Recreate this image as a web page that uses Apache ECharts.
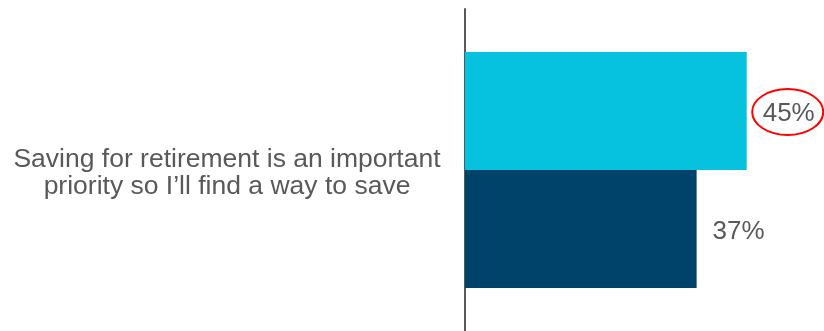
<!DOCTYPE html>
<html>
<head>
<meta charset="utf-8">
<script src="https://cdn.jsdelivr.net/npm/echarts@6/dist/echarts.min.js"></script>
<style>
  html, body { margin: 0; padding: 0; background: #fff; }
  #chart { width: 824px; height: 331px; }
</style>
</head>
<body>
<div id="chart"></div>
<script>
const categories = ['Saving for retirement is an important\npriority so I\u2019ll find a way to save'];
const seriesNames = ['Group A', 'Group B'];
const valuesA = [45];
const valuesB = [37];
const highlightValue = 45;

const chart = echarts.init(document.getElementById('chart'));

const fontFamily = "'Liberation Sans', Arial, sans-serif";
const textColor = '#595959';

const labelStyle = {
    show: true,
    position: 'right',
    distance: 16,
    offset: [0, 3],
    formatter: '{c}%',
    color: textColor,
    fontSize: 26,
    fontFamily: fontFamily
};

chart.setOption({
    animation: false,
    grid: { left: 465, top: 9, width: 313, bottom: 0, containLabel: false },
    xAxis: {
        type: 'value',
        min: 0,
        max: 50,
        show: false
    },
    yAxis: {
        type: 'category',
        inverse: true,
        data: categories,
        axisLine: { show: true, lineStyle: { color: textColor, width: 2 } },
        axisTick: { show: false },
        axisLabel: {
            align: 'center',
            margin: 238,
            formatter: function (v) {
                const lines = v.split('\n');
                return '{first|' + lines[0] + '}\n' + lines.slice(1).map(l => '{line|' + l + '}').join('\n');
            },
            rich: {
                first: {
                    color: textColor, fontSize: 26.5, lineHeight: 30,
                    fontFamily: fontFamily, padding: [10, 0, 0, 0]
                },
                line: {
                    color: textColor, fontSize: 26.5, lineHeight: 30,
                    fontFamily: fontFamily, padding: [4, 0, 0, 0]
                }
            }
        }
    },
    series: [
        {
            name: seriesNames[0],
            type: 'bar',
            data: valuesA,
            barWidth: 118,
            barGap: '0%',
            itemStyle: { color: '#06C2DE' },
            label: labelStyle
        },
        {
            name: seriesNames[1],
            type: 'bar',
            data: valuesB,
            barWidth: 118,
            barGap: '0%',
            itemStyle: { color: '#00436A' },
            label: labelStyle
        }
    ]
});

// red ring around the highlighted value label
const idx = valuesA.indexOf(highlightValue);
const layout = chart.getModel().getSeriesByIndex(0).getData().getItemLayout(idx);
const cx = layout.x + layout.width + 41;
const cy = layout.y + layout.height / 2 + 1;
chart.setOption({
    graphic: [{
        type: 'ellipse',
        shape: { cx: cx, cy: cy, rx: 35.5, ry: 23 },
        style: { fill: 'none', stroke: '#FF0000', lineWidth: 2 },
        z: 10
    }]
});
</script>
</body>
</html>
